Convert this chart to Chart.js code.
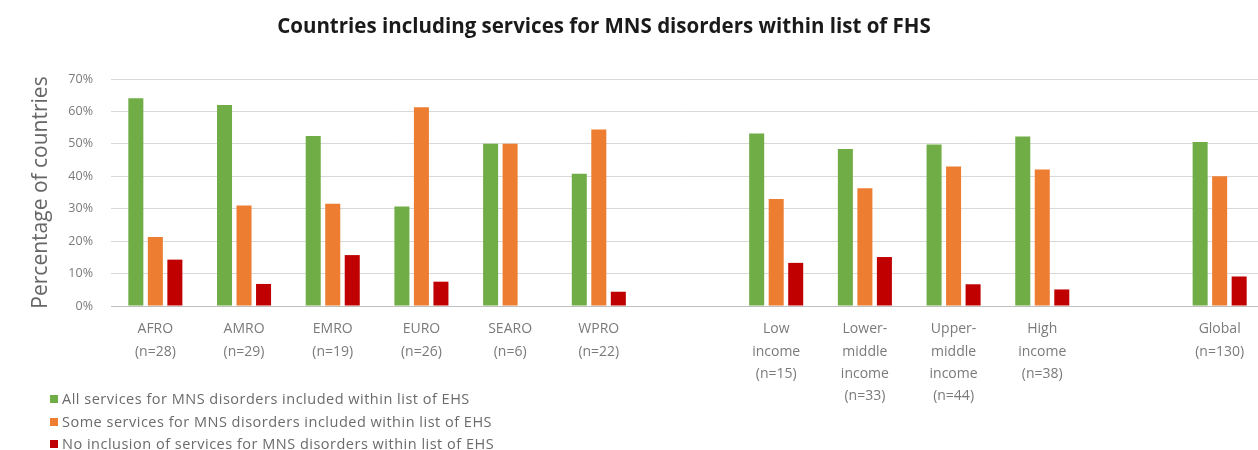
<!DOCTYPE html>
<html>
<head>
<meta charset="utf-8">
<script src="https://cdn.jsdelivr.net/npm/chart.js@4"></script>
<style>
    html, body { margin: 0; padding: 0; background: #fff; overflow: hidden; }
    #wrap { position: relative; width: 1264px; height: 450px; }
    #title {
        position: absolute; left: 0; top: 11px; width: 1208px;
        text-align: center; font-family: 'Open Sans', sans-serif;
        font-weight: bold; font-size: 20.5px; color: #1a1a1a;
    }
    #legend {
        position: absolute; left: 50px; top: 388px;
        font-family: 'Open Sans', sans-serif; font-size: 14.5px; letter-spacing: 0.5px; color: #6b6b6b;
    }
    #legend div { height: 22.5px; line-height: 22.5px; white-space: nowrap; }
    #legend span.box { display: inline-block; width: 8px; height: 8px; margin-right: 4px; vertical-align: 1px; }
</style>
</head>
<body>
<div id="wrap">
    <canvas id="mnsChart" width="1264" height="450"></canvas>
    <div id="title">Countries including services for MNS disorders within list of FHS</div>
    <div id="legend"></div>
</div>
<script>
// Categories (empty strings are the gaps between groups)
const categories = [
    ['AFRO', '(n=28)'], ['AMRO', '(n=29)'], ['EMRO', '(n=19)'], ['EURO', '(n=26)'],
    ['SEARO', '(n=6)'], ['WPRO', '(n=22)'], '',
    ['Low', 'income', '(n=15)'], ['Lower-', 'middle', 'income', '(n=33)'],
    ['Upper-', 'middle', 'income', '(n=44)'], ['High', 'income', '(n=38)'], '',
    ['Global', '(n=130)']
];

const seriesNames = [
    'All services for MNS disorders included within list of EHS',
    'Some services for MNS disorders included within list of EHS',
    'No inclusion of services for MNS disorders within list of EHS'
];

// Percent of countries
const allServices  = [64.1, 62.0, 52.4, 30.7, 50.0, 40.8, null, 53.2, 48.4, 49.8, 52.3, null, 50.6];
const someServices = [21.3, 31.0, 31.5, 61.3, 50.0, 54.4, null, 33.0, 36.3, 43.0, 42.1, null, 40.0];
const noServices   = [14.3,  6.8, 15.7,  7.5,  0.0,  4.4, null, 13.3, 15.1,  6.7,  5.1, null,  9.1];

const yTicks = [0, 10, 20, 30, 40, 50, 60, 70];

const colors = ['#70ad47', '#ed7d31', '#c00000'];
const seriesData = [allServices, someServices, noServices];

const ctx = document.getElementById('mnsChart').getContext('2d');

const datasets = seriesData.map((vals, i) => ({
    label: seriesNames[i],
    data: vals,
    backgroundColor: colors[i],
    barPercentage: 0.77,
    categoryPercentage: 0.66
}));

new Chart(ctx, {
    type: 'bar',
    data: { labels: categories, datasets: datasets },
    options: {
        responsive: false,
        animation: false,
        layout: { padding: { top: 79, left: 0, right: 0, bottom: 0 } },
        scales: {
            y: {
                min: yTicks[0],
                max: yTicks[yTicks.length - 1],
                afterFit: (scale) => { scale.width = 111; },
                afterBuildTicks: (scale) => { scale.ticks = yTicks.map(v => ({ value: v })); },
                ticks: {
                    padding: 18,
                    color: '#7a7a7a',
                    font: { family: 'Open Sans', size: 12.5 },
                    callback: (v) => v + '%'
                },
                grid: { color: '#d9d9d9', drawTicks: false },
                border: { display: false },
                title: {
                    display: true,
                    text: 'Percentage of countries',
                    color: '#666',
                    font: { family: 'Open Sans', size: 21 },
                    padding: { top: 28, bottom: 0 }
                }
            },
            x: {
                afterFit: (scale) => { scale.height = 144; },
                ticks: {
                    autoSkip: false,
                    maxRotation: 0,
                    padding: 12,
                    color: '#7a7a7a',
                    font: { family: 'Open Sans', size: 14, lineHeight: 1.6 }
                },
                grid: { display: false, drawTicks: false },
                border: { display: true, color: '#bfbfbf' }
            }
        },
        plugins: {
            legend: { display: false },
            tooltip: { enabled: false }
        }
    }
});

// HTML legend, one item per row
const legendEl = document.getElementById('legend');
seriesNames.forEach((name, i) => {
    const row = document.createElement('div');
    row.innerHTML = '<span class="box" style="background:' + colors[i] + '"></span>' + name;
    legendEl.appendChild(row);
});
</script>
</body>
</html>
